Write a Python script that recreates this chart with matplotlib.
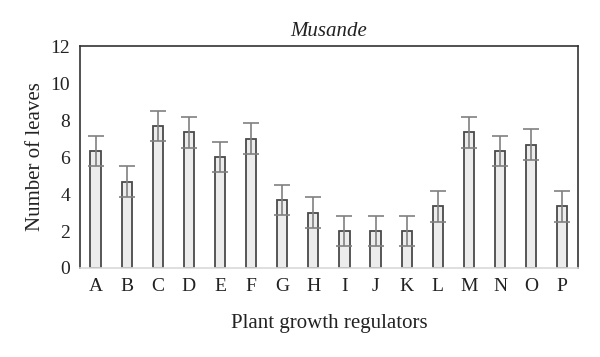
import matplotlib
matplotlib.use("Agg")
import matplotlib.pyplot as plt
import numpy as np

categories = list("ABCDEFGHIJKLMNOP")
values = [6.33, 4.67, 7.67, 7.33, 6.0, 7.0, 3.67, 3.0, 2.0, 2.0, 2.0, 3.33, 7.33, 6.33, 6.67, 3.33]
errors = [0.82, 0.82, 0.82, 0.82, 0.82, 0.82, 0.82, 0.82, 0.8, 0.8, 0.8, 0.82, 0.82, 0.82, 0.82, 0.82]
yticks = [0, 2, 4, 6, 8, 10, 12]

plt.rcParams['font.family'] = ['Liberation Serif', 'DejaVu Serif']

fig = plt.figure(figsize=(6, 3.57), dpi=100)
ax = fig.add_axes([0.1333, 0.2493, 0.8297, 0.6217])

x = np.arange(len(categories))
ax.bar(x, values, width=0.33, color='#ececec', edgecolor='#4a4a4a', linewidth=1.3, zorder=2)
ax.errorbar(x, values, yerr=errors, fmt='none', ecolor='#808080', elinewidth=1.2,
            capsize=5.5, capthick=1.2, zorder=3)

ax.set_xlim(-0.5, len(categories) - 0.5)
ax.set_ylim(0, 12)
ax.set_yticks(yticks)
ax.set_xticks(x)
ax.set_xticklabels(categories)
ax.tick_params(axis='both', length=0, labelsize=14, colors='#222222')
ax.tick_params(axis='x', pad=7)
ax.tick_params(axis='y', pad=7)

for s in ['left', 'top', 'right']:
    ax.spines[s].set_color('#333333')
    ax.spines[s].set_linewidth(1.2)
ax.spines['bottom'].set_color('#d9d9d9')
ax.spines['bottom'].set_linewidth(1.2)

ax.set_ylabel('Number of leaves', fontsize=15, color='#222222', labelpad=4)
ax.set_xlabel('Plant growth regulators', fontsize=15, color='#222222', labelpad=14)
ax.set_title('Musande', fontsize=15, style='italic', color='#222222', pad=7)

fig.savefig('out.png', dpi=100)
